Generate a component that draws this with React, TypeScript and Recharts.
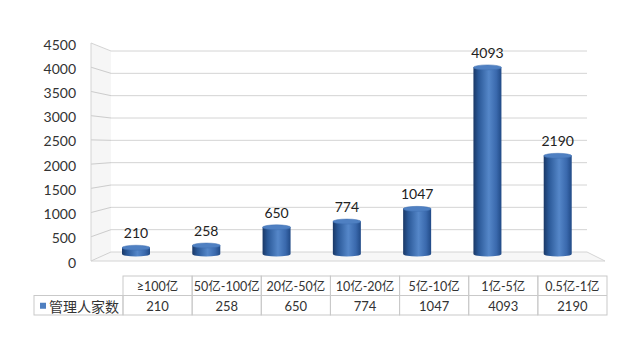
import React from 'react';
import { BarChart, Bar, XAxis, YAxis, CartesianGrid, LabelList } from 'recharts';

const categories = ['≥100亿', '50亿-100亿', '20亿-50亿', '10亿-20亿', '5亿-10亿', '1亿-5亿', '0.5亿-1亿'];
const counts = [210, 258, 650, 774, 1047, 4093, 2190];
const yTicks = [0, 500, 1000, 1500, 2000, 2500, 3000, 3500, 4000, 4500];
const seriesName = '管理人家数';

const data = categories.map((c, i) => ({ cat: c, v: counts[i] }));

const FONT = "Lato, 'Noto Sans CJK SC', sans-serif";
const PLOT_TOP = 46;
const PLOT_H = 209;
const GRID = '#d4d4d4';
const BORDER = '#c9c9c9';

const backY = (y: number) => 51 + ((y - PLOT_TOP) / PLOT_H) * 201;
const frontY = (y: number) => 43 + ((y - PLOT_TOP) / PLOT_H) * 218;

const GridLine = (p: any) => {
  const y = p.y1;
  const yb = backY(y);
  const yf = frontY(y);
  const isBottom = Math.abs(y - (PLOT_TOP + PLOT_H)) < 0.5;
  const isTop = Math.abs(y - PLOT_TOP) < 0.5;
  return (
    <g key={p.key}>
      {isTop && (
        <g>
          <polygon points={`91,${frontY(PLOT_TOP)} 111,${backY(PLOT_TOP)} 111,${backY(PLOT_TOP + PLOT_H)} 91,${frontY(PLOT_TOP + PLOT_H)}`} fill="#000" fillOpacity={0.035} stroke="none" />
          <line x1={91} x2={91} y1={frontY(PLOT_TOP)} y2={frontY(PLOT_TOP + PLOT_H)} stroke={GRID} />
        </g>
      )}
      {isBottom ? (
        <polygon points={`91,${yf} 111,${yb} 587,${yb} 605,${yf}`} fill="#f7f7f7" stroke={GRID} />
      ) : (
        <polyline points={`91,${yf} 111,${yb} 587,${yb}`} fill="none" stroke={GRID} />
      )}
    </g>
  );
};

const YTick = (p: any) => {
  const { x, y, payload } = p;
  return (
    <text x={x} y={frontY(y) + 1} textAnchor="end" dominantBaseline="central" fontSize={14} fill="#333" fontFamily={FONT}>
      {payload.value}
    </text>
  );
};

const Cylinder = (p: any) => {
  const { x, y, width, height } = p;
  if (!height || height <= 0) return null;
  const rx = width / 2;
  const ry = 2.5;
  const bottom = y + height - 1;
  return (
    <g>
      <path
        d={`M${x},${y + ry} L${x},${bottom} A${rx},${ry} 0 0 0 ${x + width},${bottom} L${x + width},${y + ry} Z`}
        fill="url(#cylGrad)"
      />
      <ellipse cx={x + rx} cy={y + ry} rx={rx} ry={ry} fill="#4f80c2" stroke="#3f6fb0" strokeWidth={0.5} />
    </g>
  );
};

const TableTick = (p: any) => {
  const { x, y, payload } = p;
  const i = payload.index;
  const half = payload.offset && payload.offset > 5 ? payload.offset : 34.57;
  const left = x - half;
  const w = half * 2;
  const top = y - 9;
  const rh = 19.5;
  return (
    <g>
      <rect x={left} y={top} width={w} height={rh * 2} fill="none" stroke={BORDER} />
      <line x1={left} x2={left + w} y1={top + rh} y2={top + rh} stroke={BORDER} />
      <text x={x} y={top + rh / 2 + 1} textAnchor="middle" dominantBaseline="central" fontSize={12.5} fill="#333" fontFamily={FONT}>
        {payload.value}
      </text>
      <text x={x} y={top + rh * 1.5 + 1} textAnchor="middle" dominantBaseline="central" fontSize={13} fill="#333" fontFamily={FONT}>
        {counts[i]}
      </text>
      {i === 0 && (
        <g>
          <rect x={34} y={top + rh} width={left - 34} height={rh} fill="none" stroke={BORDER} />
          <rect x={40} y={top + rh * 1.5 - 2.5} width={6} height={6} fill="#4f7fc0" />
          <text x={49} y={top + rh * 1.5 + 1} dominantBaseline="central" fontSize={14} fill="#333" fontFamily={FONT}>
            {seriesName}
          </text>
        </g>
      )}
    </g>
  );
};

export default function App() {
  return (
    <div style={{ position: 'absolute', left: 0, top: 0, width: 641, height: 357, background: '#fff' }}>
      <BarChart
        width={641}
        height={357}
        data={data}
        margin={{ top: PLOT_TOP, right: 34, left: 41, bottom: 32 }}
        style={{ fontFamily: FONT }}
      >
        <defs>
          <linearGradient id="cylGrad" x1="0" y1="0" x2="1" y2="0">
            <stop offset="0%" stopColor="#1a3866" />
            <stop offset="18%" stopColor="#2a5897" />
            <stop offset="55%" stopColor="#5587c9" />
            <stop offset="82%" stopColor="#3a69ad" />
            <stop offset="100%" stopColor="#214a86" />
          </linearGradient>
        </defs>
        <CartesianGrid xAxisId="b" vertical={false} horizontal={GridLine} />
        <XAxis xAxisId="b" dataKey="cat" hide padding={{ left: 0, right: 14 }} />
        <XAxis
          xAxisId="t"
          dataKey="cat"
          height={70}
          padding={{ left: 22, right: 0 }}
          axisLine={false}
          tickLine={false}
          tickSize={0}
          tickMargin={0}
          interval={0}
          tick={TableTick}
        />
        <YAxis
          domain={[0, 4500]}
          ticks={yTicks}
          width={60}
          axisLine={false}
          tickLine={false}
          tickSize={0}
          tickMargin={25}
          tick={YTick}
          interval={0}
        />
        <Bar xAxisId="b" dataKey="v" name={seriesName} barSize={28} shape={Cylinder} isAnimationActive={false}>
          <LabelList dataKey="v" position="top" offset={7} fontSize={14} fill="#222" fontFamily={FONT} />
        </Bar>
      </BarChart>
    </div>
  );
}
